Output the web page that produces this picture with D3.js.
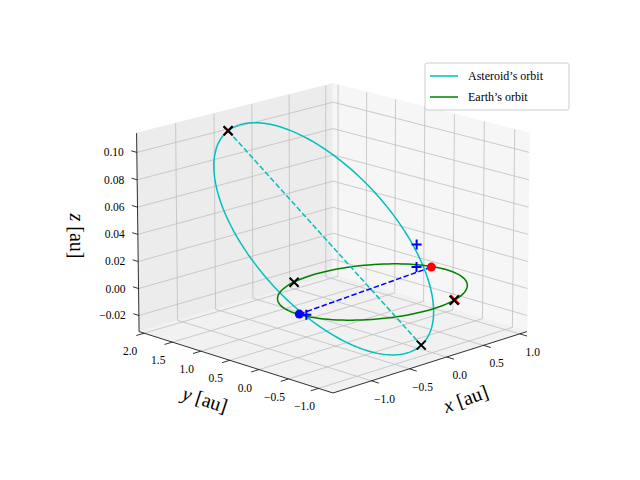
<!DOCTYPE html>
<html><head><meta charset="utf-8">
<script src="https://cdn.jsdelivr.net/npm/d3@7"></script>
<style>body{margin:0;background:#fff}</style></head>
<body><svg id="c" width="640" height="480"></svg>
<script>
// ---- data ----
const xTicks = [-1.0, -0.5, 0.0, 0.5, 1.0];
const yTicks = [-1.0, -0.5, 0.0, 0.5, 1.0, 1.5, 2.0];
const zTicks = [-0.02, 0.00, 0.02, 0.04, 0.06, 0.08, 0.10];
const xDomain = [-1.5, 1.1];
const yDomain = [-1.24, 2.09];
const zDomain = [-0.032, 0.114];
// asteroid orbital elements: a [au], e, i [deg], node [deg], arg. of perihelion [deg]
const asteroidElements = [1.2, 0.5, 3.5, 8, 282];
const earthRadius = [1.0];
const earthMarks = [[-0.32, 0.94, 0], [0.34, -0.94, 0]];
const redCrosses = [[0.36, -0.93, 0]];
const blueDot = [[-0.99, -0.02, 0]];
const redDot = [[0.96, 0.2, 0]];
const plusMarks = [[-0.96, -0.1, 0], [0.86, 0.33, 0], [0.86, 0.33, 0.017]];
const legendLabels = ["Asteroid\u2019s orbit", "Earth\u2019s orbit"];
const legendColors = ["#00bfbf", "#008000"];

// ---- projection ----
const sx = d3.scaleLinear().domain(xDomain).range([-2, 2]);
const sy = d3.scaleLinear().domain(yDomain).range([-2, 2]);
const sz = d3.scaleLinear().domain(zDomain).range([-1.5, 1.5]);
const azim = -135 * Math.PI / 180, elev = 16.5 * Math.PI / 180;
const S = 69, CX = 333, CY = 233;
function proj(p) {
  const X = sx(p[0]), Y = sy(p[1]), Z = sz(p[2]);
  const r = -Math.sin(azim) * X + Math.cos(azim) * Y;
  const u = -Math.cos(azim) * Math.sin(elev) * X - Math.sin(azim) * Math.sin(elev) * Y + Math.cos(elev) * Z;
  const d = Math.cos(azim) * Math.cos(elev) * X + Math.sin(azim) * Math.cos(elev) * Y + Math.sin(elev) * Z;
  const f = 1 + d * 0.015;
  return [CX + S * r * f, CY - S * u * f];
}
const svg = d3.select("#c");
const line = d3.line().x(d => proj(d)[0]).y(d => proj(d)[1]);
const [x0, x1] = xDomain, [y0, y1] = yDomain, [z0, z1] = zDomain;

// panes
function pane(pts, fill) {
  svg.append("path").attr("d", line(pts) + "Z").attr("fill", fill).attr("stroke", fill);
}
pane([[x0, y1, z0], [x1, y1, z0], [x1, y1, z1], [x0, y1, z1]], "#ececec");
pane([[x1, y0, z0], [x1, y1, z0], [x1, y1, z1], [x1, y0, z1]], "#f6f6f6");
pane([[x0, y0, z0], [x1, y0, z0], [x1, y1, z0], [x0, y1, z0]], "#f1f1f1");

// grid
const g = svg.append("g").attr("stroke", "#bfbfbf").attr("stroke-width", 0.8).attr("fill", "none");
xTicks.forEach(t => g.append("path").attr("d", line([[t, y0, z0], [t, y1, z0], [t, y1, z1]])));
yTicks.forEach(t => g.append("path").attr("d", line([[x0, t, z0], [x1, t, z0], [x1, t, z1]])));
zTicks.forEach(t => g.append("path").attr("d", line([[x0, y1, t], [x1, y1, t], [x1, y0, t]])));

// axes
const ax = svg.append("g").attr("stroke", "#000").attr("stroke-width", 0.8).attr("fill", "none");
ax.append("path").attr("d", line([[x0, y0, z0], [x1, y0, z0]]));
ax.append("path").attr("d", line([[x0, y0, z0], [x0, y1, z0]]));
ax.append("path").attr("d", line([[x0, y1, z0], [x0, y1, z1]]));
const fmt = v => d3.format(".1f")(v).replace("-", "\u2212");
const fmt2 = v => d3.format(".2f")(v).replace("-", "\u2212");
const txt = svg.append("g").attr("font-family", "Liberation Serif, DejaVu Serif, serif").attr("font-size", 11.5).attr("fill", "#000");
xTicks.forEach(t => {
  const a = proj([t, y0, z0]), b = proj([t, y0 - 0.12, z0]);
  ax.append("line").attr("x1", a[0]).attr("y1", a[1]).attr("x2", b[0]).attr("y2", b[1]);
  txt.append("text").attr("x", a[0] + 13).attr("y", a[1] + 22).attr("text-anchor", "middle").text(fmt(t));
});
yTicks.forEach(t => {
  const a = proj([x0, t, z0]), b = proj([x0 - 0.1, t, z0]);
  ax.append("line").attr("x1", a[0]).attr("y1", a[1]).attr("x2", b[0]).attr("y2", b[1]);
  txt.append("text").attr("x", a[0] - 14).attr("y", a[1] + 22).attr("text-anchor", "middle").text(fmt(t));
});
zTicks.forEach(t => {
  const a = proj([x0, y1, t]), b = proj([x0, y1 + 0.1, t]);
  ax.append("line").attr("x1", a[0]).attr("y1", a[1]).attr("x2", b[0]).attr("y2", b[1]);
  txt.append("text").attr("x", a[0] - 13).attr("y", a[1] + 4).attr("text-anchor", "end").text(fmt2(t));
});
const lab = svg.append("g").attr("font-family", "Liberation Serif, DejaVu Serif, serif").attr("font-size", 20);
function axLabel(x, y, rot, v) {
  const t = lab.append("text").attr("transform", `translate(${x},${y}) rotate(${rot})`).attr("text-anchor", "middle");
  t.append("tspan").attr("font-style", "italic").text(v);
  t.append("tspan").text(" [au]");
}
axLabel(468, 405, -20, "x");
axLabel(203, 406, 18, "y");
axLabel(70, 236, 90, "z");

// orbits
const [A, E, I, N, W] = asteroidElements;
const rad = Math.PI / 180;
function astPos(nu) {
  const r = A * (1 - E * E) / (1 + E * Math.cos(nu * rad));
  const u = (W + nu) * rad, O = N * rad, inc = I * rad;
  return [r * (Math.cos(O) * Math.cos(u) - Math.sin(O) * Math.sin(u) * Math.cos(inc)),
          r * (Math.sin(O) * Math.cos(u) + Math.cos(O) * Math.sin(u) * Math.cos(inc)),
          r * Math.sin(u) * Math.sin(inc)];
}
const astPts = d3.range(0, 361, 2).map(astPos);
const apsides = [astPos(180), astPos(0)];
const earthPts = d3.range(0, 361, 3).map(t => [earthRadius[0] * Math.cos(t * rad), earthRadius[0] * Math.sin(t * rad), 0]);
svg.append("path").attr("d", line(astPts)).attr("fill", "none").attr("stroke", legendColors[0]).attr("stroke-width", 1.5);
svg.append("path").attr("d", line(earthPts)).attr("fill", "none").attr("stroke", legendColors[1]).attr("stroke-width", 1.5);
svg.append("path").attr("d", line(apsides)).attr("fill", "none").attr("stroke", legendColors[0]).attr("stroke-width", 1.5).attr("stroke-dasharray", "5.5,2.4");
svg.append("path").attr("d", line([blueDot[0], redDot[0]])).attr("fill", "none").attr("stroke", "#0000ff").attr("stroke-width", 1.5).attr("stroke-dasharray", "5.5,2.4");

// markers
function cross(p, col) {
  const [x, y] = proj(p), s = 4.5;
  svg.append("path").attr("d", `M${x - s},${y - s}L${x + s},${y + s}M${x - s},${y + s}L${x + s},${y - s}`).attr("stroke", col).attr("stroke-width", 2);
}
function plus(p, col) {
  const [x, y] = proj(p), s = 5;
  svg.append("path").attr("d", `M${x - s},${y}L${x + s},${y}M${x},${y - s}L${x},${y + s}`).attr("stroke", col).attr("stroke-width", 2);
}
cross(apsides[0], "#ff0000");
redCrosses.forEach(p => cross(p, "#ff0000"));
apsides.forEach(p => cross(p, "#000"));
earthMarks.forEach(p => cross(p, "#000"));
blueDot.forEach(p => { const q = proj(p); svg.append("circle").attr("cx", q[0]).attr("cy", q[1]).attr("r", 4.5).attr("fill", "#0000ff"); });
redDot.forEach(p => { const q = proj(p); svg.append("circle").attr("cx", q[0]).attr("cy", q[1]).attr("r", 4.5).attr("fill", "#ff0000"); });
plusMarks.forEach(p => plus(p, "#0000ff"));

// legend
const lg = svg.append("g").attr("transform", "translate(425,63)");
lg.append("rect").attr("width", 144).attr("height", 47).attr("rx", 2.5).attr("fill", "#fff").attr("fill-opacity", 0.8).attr("stroke", "#ccc");
legendLabels.forEach((l, i) => {
  lg.append("line").attr("x1", 5).attr("x2", 33).attr("y1", 13 + i * 21).attr("y2", 13 + i * 21).attr("stroke", legendColors[i]).attr("stroke-width", 1.5);
  lg.append("text").attr("x", 43).attr("y", 17 + i * 21).attr("font-family", "Liberation Serif, DejaVu Serif, serif").attr("font-size", 12).text(l);
});
</script></body></html>
